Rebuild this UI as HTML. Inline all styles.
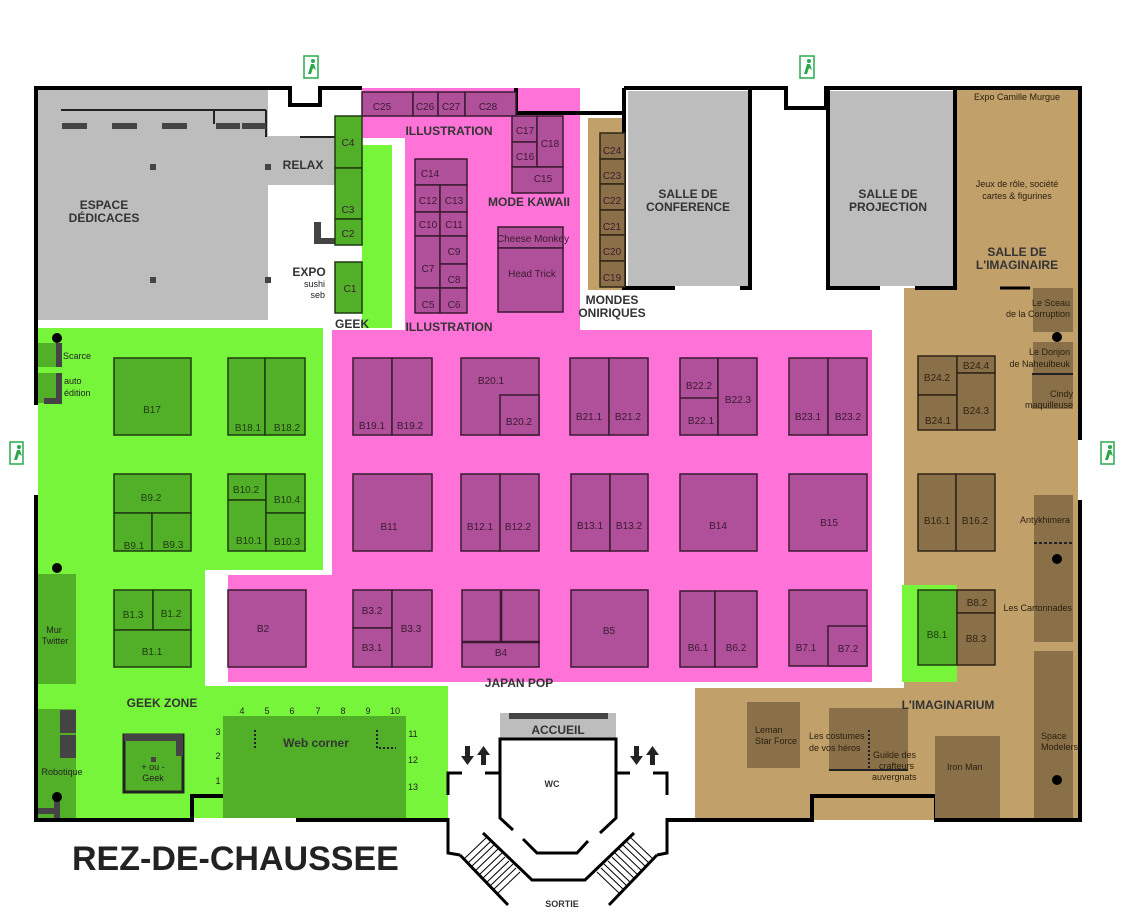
<!DOCTYPE html>
<html><head><meta charset="utf-8"><style>
html,body{margin:0;padding:0;background:#fff;}
svg{display:block;}
text{font-family:"Liberation Sans",sans-serif;}
.b{font-weight:bold;fill:#333;}
.p{fill:#b0509a;stroke:#3a1a30;stroke-width:1.5;}
.g{fill:#52b028;stroke:#1f3a10;stroke-width:1.5;}
.n{fill:#8a7048;stroke:#2e2414;stroke-width:1.5;}
.t{font-size:10px;fill:#3a1a30;text-anchor:middle;}
.w{fill:none;stroke:#000;stroke-width:4;}
</style></head><body>
<svg width="1121" height="921" viewBox="0 0 1121 921" xmlns="http://www.w3.org/2000/svg">
<rect x="38" y="90" width="230" height="230" fill="#bdbdbd"/>
<rect x="268" y="136" width="67" height="49" fill="#bdbdbd"/>
<polygon points="38,328 323,328 323,570 205,570 205,686 448,686 448,818 38,818" fill="#76f53a"/>
<polygon points="332,330 872,330 872,682 228,682 228,575 332,575" fill="#ff73d9"/>
<polygon points="362,88 580,88 580,330 405,330 405,138 362,138" fill="#ff73d9"/>
<rect x="362" y="145" width="30" height="183" fill="#76f53a"/>
<rect x="588" y="118" width="38" height="172" fill="#c2a06a"/>
<polygon points="955,90 1078,90 1078,820 695,820 695,688 904,688 904,288 955,288" fill="#c2a06a"/>
<rect x="902" y="585" width="55" height="97" fill="#76f53a"/>
<rect x="628" y="91" width="120" height="195" fill="#bdbdbd"/>
<rect x="830" y="91" width="123" height="195" fill="#bdbdbd"/>
<polyline class="w" points="36,405 36,88 290,88 290,105 320,105 320,88 362,88"/>
<polyline class="w" points="516,88 516,113 624,113"/>
<polyline class="w" points="624,88 750,88 750,288 740,288"/>
<polyline class="w" points="624,88 624,288 675,288"/>
<polyline class="w" points="750,88 786,88 786,108 826,108 826,88 1080,88 1080,440"/>
<polyline class="w" points="828,88 828,288 880,288"/>
<polyline class="w" points="955,88 955,288 915,288"/>
<line x1="1000" y1="288" x2="1030" y2="288" stroke="#000" stroke-width="3"/>
<polyline class="w" points="1080,500 1080,820 936,820 936,796 812,796 812,820 668,820"/>
<polyline class="w" points="36,495 36,820 192,820 192,796 298,796 298,820 448,820"/>
<line x1="61" y1="110" x2="266" y2="110" stroke="#222" stroke-width="2"/>
<line x1="214" y1="110" x2="214" y2="124" stroke="#222" stroke-width="2"/>
<line x1="266" y1="110" x2="266" y2="137" stroke="#222" stroke-width="2"/>
<g fill="#444"><rect x="62" y="123" width="25" height="6"/><rect x="112" y="123" width="25" height="6"/><rect x="162" y="123" width="25" height="6"/><rect x="216" y="123" width="24" height="6"/><rect x="242" y="123" width="24" height="6"/>
<rect x="150" y="164" width="6" height="6"/><rect x="265" y="164" width="6" height="6"/><rect x="150" y="277" width="6" height="6"/><rect x="265" y="277" width="6" height="6"/>
<rect x="314" y="222" width="7" height="22"/><rect x="321" y="238" width="14" height="6"/></g>
<line x1="300" y1="137" x2="335" y2="137" stroke="#222" stroke-width="2"/>
<g class="g"><rect x="335" y="116" width="27" height="52"/><rect x="335" y="168" width="27" height="51"/><rect x="335" y="219" width="27" height="26"/><rect x="335" y="262" width="27" height="51"/></g>
<g class="p"><rect x="362" y="92" width="51" height="24"/><rect x="413" y="92" width="25" height="24"/><rect x="438" y="92" width="27" height="24"/><rect x="465" y="92" width="51" height="24"/>
<rect x="512" y="116" width="25" height="26"/><rect x="512" y="142" width="25" height="25"/><rect x="537" y="116" width="26" height="51"/><rect x="512" y="167" width="51" height="26"/>
<rect x="415" y="159" width="52" height="26"/><rect x="415" y="185" width="25" height="27"/><rect x="440" y="185" width="27" height="27"/><rect x="415" y="212" width="25" height="24"/><rect x="440" y="212" width="27" height="24"/><rect x="415" y="236" width="25" height="52"/><rect x="440" y="236" width="27" height="28"/><rect x="440" y="264" width="27" height="24"/><rect x="415" y="288" width="25" height="25"/><rect x="440" y="288" width="27" height="25"/>
<rect x="498" y="227" width="65" height="21"/><rect x="498" y="248" width="65" height="64"/></g>
<g class="n"><rect x="600" y="133" width="25" height="26"/><rect x="600" y="159" width="25" height="25"/><rect x="600" y="184" width="25" height="26"/><rect x="600" y="210" width="25" height="25"/><rect x="600" y="235" width="25" height="26"/><rect x="600" y="261" width="25" height="26"/></g>
<g class="t" font-size="11"><text x="382" y="110">C25</text><text x="425" y="110">C26</text><text x="451" y="110">C27</text><text x="488" y="110">C28</text>
<text x="525" y="134">C17</text><text x="525" y="160">C16</text><text x="550" y="147">C18</text><text x="543" y="182">C15</text>
<text x="430" y="177">C14</text><text x="428" y="204">C12</text><text x="454" y="204">C13</text><text x="428" y="228">C10</text><text x="454" y="228">C11</text><text x="428" y="272">C7</text><text x="454" y="255">C9</text><text x="454" y="283">C8</text><text x="428" y="308">C5</text><text x="454" y="308">C6</text>
<text x="533" y="242">Cheese Monkey</text><text x="532" y="277">Head Trick</text>
<text x="348" y="146">C4</text><text x="348" y="213">C3</text><text x="348" y="237">C2</text><text x="350" y="292">C1</text>
<text x="612" y="154">C24</text><text x="612" y="179">C23</text><text x="612" y="204">C22</text><text x="612" y="230">C21</text><text x="612" y="255">C20</text><text x="612" y="281">C19</text></g>
<g class="p">
<rect x="353" y="358" width="39" height="77"/><rect x="392" y="358" width="40" height="77"/>
<rect x="461" y="358" width="78" height="77"/><rect x="500" y="395" width="39" height="40"/>
<rect x="570" y="358" width="39" height="77"/><rect x="609" y="358" width="39" height="77"/>
<rect x="680" y="358" width="38" height="77"/><rect x="718" y="358" width="39" height="77"/><line x1="680" y1="398" x2="718" y2="398"/>
<rect x="789" y="358" width="39" height="77"/><rect x="828" y="358" width="39" height="77"/>
<rect x="353" y="474" width="79" height="77"/>
<rect x="461" y="474" width="39" height="77"/><rect x="500" y="474" width="39" height="77"/>
<rect x="571" y="474" width="39" height="77"/><rect x="610" y="474" width="38" height="77"/>
<rect x="680" y="474" width="77" height="77"/><rect x="789" y="474" width="78" height="77"/>
<rect x="228" y="590" width="78" height="77"/>
<rect x="353" y="590" width="39" height="38"/><rect x="353" y="628" width="39" height="39"/><rect x="392" y="590" width="40" height="77"/>
<rect x="462" y="590" width="77" height="77"/><line x1="501" y1="590" x2="501" y2="642" stroke-width="2.5"/><line x1="462" y1="642" x2="540" y2="642" stroke-width="2.5"/>
<rect x="571" y="590" width="77" height="77"/>
<rect x="680" y="591" width="35" height="76"/><rect x="715" y="591" width="42" height="76"/>
<rect x="789" y="590" width="78" height="76"/><rect x="828" y="626" width="39" height="40"/>
</g>
<g class="t"><text x="372" y="429">B19.1</text><text x="410" y="429">B19.2</text><text x="491" y="384">B20.1</text><text x="519" y="425">B20.2</text>
<text x="589" y="420">B21.1</text><text x="628" y="420">B21.2</text><text x="699" y="389">B22.2</text><text x="738" y="403">B22.3</text><text x="701" y="424">B22.1</text>
<text x="808" y="420">B23.1</text><text x="848" y="420">B23.2</text>
<text x="389" y="530">B11</text><text x="480" y="530">B12.1</text><text x="518" y="530">B12.2</text><text x="590" y="529">B13.1</text><text x="629" y="529">B13.2</text><text x="718" y="529">B14</text><text x="829" y="526">B15</text>
<text x="263" y="632">B2</text><text x="372" y="614">B3.2</text><text x="372" y="651">B3.1</text><text x="411" y="632">B3.3</text><text x="501" y="656">B4</text><text x="609" y="634">B5</text><text x="698" y="651">B6.1</text><text x="736" y="651">B6.2</text><text x="806" y="651">B7.1</text><text x="848" y="652">B7.2</text></g>
<g class="g">
<rect x="114" y="358" width="77" height="77"/>
<rect x="228" y="358" width="37" height="77"/><rect x="265" y="358" width="40" height="77"/>
<rect x="114" y="474" width="77" height="39"/><rect x="114" y="513" width="38" height="38"/><rect x="152" y="513" width="39" height="38"/>
<rect x="228" y="474" width="38" height="26"/><rect x="228" y="500" width="38" height="51"/><rect x="266" y="474" width="39" height="39"/><rect x="266" y="513" width="39" height="38"/>
<rect x="114" y="590" width="39" height="40"/><rect x="153" y="590" width="38" height="40"/><rect x="114" y="630" width="77" height="37"/>
<rect x="38" y="574" width="38" height="110" stroke="none"/><rect x="38" y="709" width="38" height="109" stroke="none"/>
<rect x="38" y="343" width="20" height="24" stroke="none"/><rect x="38" y="373" width="22" height="30" stroke="none"/>
<rect x="223" y="716" width="183" height="102" stroke="none"/>
<rect x="124" y="735" width="59" height="57" stroke="#222" stroke-width="3"/>
<rect x="918" y="590" width="39" height="75"/>
</g>
<g fill="#444"><rect x="56" y="343" width="6" height="24"/><rect x="44" y="398" width="18" height="6"/><rect x="56" y="373" width="6" height="30"/>
<rect x="60" y="710" width="16" height="23"/><rect x="60" y="735" width="16" height="23"/><rect x="38" y="808" width="18" height="6"/><rect x="54" y="800" width="6" height="18"/>
<rect x="124" y="734" width="56" height="7"/><rect x="176" y="734" width="7" height="22"/><rect x="151" y="757" width="5" height="5"/></g>
<g fill="#000"><circle cx="57" cy="338" r="5"/><circle cx="57" cy="568" r="5"/><circle cx="57" cy="797" r="5"/></g>
<line x1="255" y1="730" x2="255" y2="748" stroke="#222" stroke-width="2" stroke-dasharray="2,2"/>
<polyline points="377,730 377,748 396,748" fill="none" stroke="#222" stroke-width="2" stroke-dasharray="2,2"/>
<g class="t" style="fill:#1f3a10"><text x="152" y="413">B17</text><text x="248" y="431">B18.1</text><text x="287" y="431">B18.2</text>
<text x="151" y="501">B9.2</text><text x="134" y="549">B9.1</text><text x="173" y="548">B9.3</text><text x="246" y="493">B10.2</text><text x="287" y="503">B10.4</text><text x="249" y="544">B10.1</text><text x="287" y="545">B10.3</text>
<text x="133" y="618">B1.3</text><text x="171" y="617">B1.2</text><text x="152" y="655">B1.1</text>
<text x="937" y="638">B8.1</text></g>
<g font-size="9" fill="#222"><text x="63" y="359">Scarce</text><text x="64" y="384">auto</text><text x="64" y="396">édition</text>
<text x="54" y="633" text-anchor="middle">Mur</text><text x="55" y="644" text-anchor="middle">Twitter</text><text x="62" y="775" text-anchor="middle">Robotique</text>
<text x="153" y="770" text-anchor="middle">+ ou -</text><text x="153" y="781" text-anchor="middle">Geek</text></g>
<g font-size="9" fill="#222" text-anchor="middle"><text x="242" y="714">4</text><text x="267" y="714">5</text><text x="292" y="714">6</text><text x="318" y="714">7</text><text x="343" y="714">8</text><text x="368" y="714">9</text><text x="395" y="714">10</text>
<text x="218" y="735">3</text><text x="218" y="759">2</text><text x="218" y="784">1</text><text x="413" y="737">11</text><text x="413" y="763">12</text><text x="413" y="790">13</text></g>
<g class="n">
<rect x="918" y="356" width="39" height="39"/><rect x="918" y="395" width="39" height="35"/><rect x="957" y="356" width="38" height="17"/><rect x="957" y="373" width="38" height="57"/>
<rect x="918" y="474" width="38" height="77"/><rect x="956" y="474" width="39" height="77"/>
<rect x="957" y="590" width="38" height="23"/><rect x="957" y="613" width="38" height="52"/>
<rect x="1033" y="288" width="40" height="44" stroke="none"/><rect x="1033" y="342" width="40" height="32" stroke="none"/><rect x="1032" y="374" width="41" height="35" stroke="none"/>
<rect x="1034" y="495" width="39" height="47" stroke="none"/><rect x="1034" y="542" width="39" height="100" stroke="none"/><rect x="1034" y="651" width="39" height="167" stroke="none"/>
<rect x="747" y="702" width="53" height="66" stroke="none"/><rect x="829" y="708" width="79" height="62" stroke="none"/><rect x="935" y="736" width="65" height="82" stroke="none"/>
</g>
<line x1="957" y1="613" x2="957" y2="665" stroke="#2e2414"/>
<line x1="1032" y1="374" x2="1073" y2="374" stroke="#222" stroke-width="2"/>
<line x1="1034" y1="543" x2="1073" y2="543" stroke="#222" stroke-width="2" stroke-dasharray="3,2"/>
<line x1="829" y1="770" x2="908" y2="770" stroke="#222" stroke-width="2"/>
<line x1="869" y1="730" x2="869" y2="770" stroke="#222" stroke-width="2" stroke-dasharray="2,2"/>
<g fill="#000"><circle cx="1057" cy="337" r="5"/><circle cx="1057" cy="559" r="5"/><circle cx="1057" cy="780" r="5"/></g>
<g class="t" style="fill:#2e2414"><text x="937" y="381">B24.2</text><text x="976" y="369">B24.4</text><text x="938" y="424">B24.1</text><text x="976" y="414">B24.3</text>
<text x="937" y="524">B16.1</text><text x="975" y="524">B16.2</text><text x="977" y="606">B8.2</text><text x="976" y="642">B8.3</text></g>
<g font-size="9" fill="#2a2010" text-anchor="end"><text x="1070" y="306">Le Sceau</text><text x="1070" y="317">de la Corruption</text>
<text x="1070" y="355">Le Donjon</text><text x="1070" y="367">de Naheulbeuk</text><text x="1073" y="397">Cindy</text><text x="1073" y="408">maquilleuse</text>
<text x="1070" y="523">Antykhimera</text><text x="1072" y="611">Les Cartonnades</text></g>
<g font-size="9" fill="#2a2010"><text x="1041" y="739">Space</text><text x="1041" y="750">Modelers</text><text x="755" y="733">Leman</text><text x="755" y="744">Star Force</text>
<text x="809" y="739">Les costumes</text><text x="809" y="751">de vos héros</text><text x="873" y="758">Guilde des</text><text x="879" y="769">crafteurs</text><text x="872" y="780">auvergnats</text>
<text x="947" y="770">Iron Man</text><text x="1017" y="100" text-anchor="middle">Expo Camille Murgue</text><text x="1017" y="187" text-anchor="middle">Jeux de rôle, société</text><text x="1017" y="199" text-anchor="middle">cartes &amp; figurines</text></g>
<!-- entrance -->
<rect x="500" y="713" width="116" height="26" fill="#bdbdbd"/><rect x="509" y="713" width="99" height="6" fill="#444"/>
<g fill="none" stroke="#000" stroke-width="3">
<polyline points="513,830 500,818 500,739 616,739 616,818 600,833"/>
<polyline points="523,839 537,853 577,853 588,841"/>
<polyline points="448,818 448,853 460,855"/>
<polyline points="667,818 667,853 657,855"/>
<line x1="460" y1="855" x2="508" y2="905"/>
<line x1="657" y1="855" x2="609" y2="905"/>
<polyline points="483,833 532,880 585,880 634,833"/>
<polyline points="448,795 448,773 462,773"/><line x1="485" y1="773" x2="500" y2="773"/>
<polyline points="667,795 667,773 653,773"/><line x1="630" y1="773" x2="616" y2="773"/>
</g>
<g stroke="#000" stroke-width="1">
<line x1="487" y1="837" x2="464" y2="859"/><line x1="491" y1="841" x2="468" y2="863"/><line x1="494" y1="845" x2="471" y2="867"/><line x1="498" y1="849" x2="475" y2="871"/><line x1="502" y1="853" x2="479" y2="875"/><line x1="505" y1="857" x2="482" y2="879"/><line x1="509" y1="861" x2="486" y2="883"/><line x1="513" y1="864" x2="490" y2="886"/><line x1="516" y1="868" x2="493" y2="890"/><line x1="520" y1="872" x2="497" y2="894"/>
<line x1="630" y1="837" x2="653" y2="859"/><line x1="626" y1="841" x2="649" y2="863"/><line x1="623" y1="845" x2="646" y2="867"/><line x1="619" y1="849" x2="642" y2="871"/><line x1="615" y1="853" x2="638" y2="875"/><line x1="612" y1="857" x2="635" y2="879"/><line x1="608" y1="861" x2="631" y2="883"/><line x1="604" y1="864" x2="627" y2="886"/><line x1="601" y1="868" x2="624" y2="890"/><line x1="597" y1="872" x2="620" y2="894"/>
</g>
<g fill="#222">
<polygon points="465,746 470,746 470,756 474,756 467.5,765 461,756 465,756"/>
<polygon points="481,765 486,765 486,755 490,755 483.5,746 477,755 481,755"/>
<polygon points="634,746 639,746 639,756 643,756 636.5,765 630,756 634,756"/>
<polygon points="650,765 655,765 655,755 659,755 652.5,746 646,755 650,755"/>
</g>
<g fill="none" stroke="#2aa84a" stroke-width="1.5"><rect x="304" y="56" width="14" height="22"/><rect x="800" y="56" width="14" height="22"/><rect x="10" y="442" width="13" height="22"/><rect x="1101" y="442" width="13" height="22"/></g>
<g fill="#2aa84a"><circle cx="313" cy="61" r="2"/><polygon points="308,74 311,64 314,64 316,70 313,68 311,74"/>
<circle cx="809" cy="61" r="2"/><polygon points="804,74 807,64 810,64 812,70 809,68 807,74"/>
<circle cx="19" cy="447" r="2"/><polygon points="14,460 17,450 20,450 22,456 19,454 17,460"/>
<circle cx="1110" cy="447" r="2"/><polygon points="1105,460 1108,450 1111,450 1113,456 1110,454 1108,460"/></g>
<g class="b" font-size="12" text-anchor="middle">
<text x="104" y="209">ESPACE</text><text x="104" y="222">DÉDICACES</text><text x="303" y="169">RELAX</text>
<text x="309" y="276">EXPO</text><text x="352" y="328">GEEK</text>
<text x="449" y="135">ILLUSTRATION</text><text x="529" y="206">MODE KAWAII</text><text x="449" y="331">ILLUSTRATION</text>
<text x="612" y="304">MONDES</text><text x="612" y="317">ONIRIQUES</text>
<text x="688" y="198">SALLE DE</text><text x="688" y="211">CONFERENCE</text><text x="888" y="198">SALLE DE</text><text x="888" y="211">PROJECTION</text>
<text x="1017" y="256">SALLE DE</text><text x="1017" y="269">L'IMAGINAIRE</text>
<text x="948" y="709">L'IMAGINARIUM</text><text x="519" y="687">JAPAN POP</text><text x="162" y="707">GEEK ZONE</text>
<text x="316" y="747">Web corner</text><text x="558" y="734">ACCUEIL</text></g>
<g font-size="9" fill="#222" text-anchor="end"><text x="325" y="287">sushi</text><text x="325" y="298">seb</text></g>
<g class="b" font-size="9" text-anchor="middle"><text x="552" y="787">WC</text><text x="562" y="907">SORTIE</text></g>
<text x="72" y="870" font-size="34" font-weight="bold" fill="#222">REZ-DE-CHAUSSEE</text>
</svg>
</body></html>
